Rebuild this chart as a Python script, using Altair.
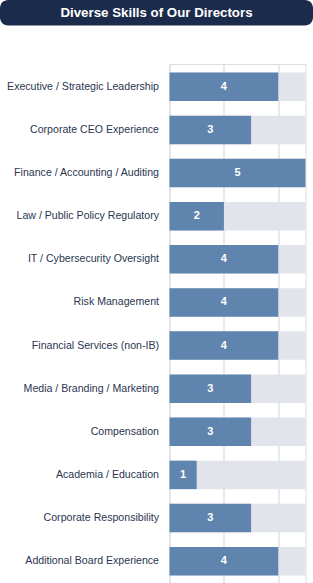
import altair as alt
import pandas as pd

# Board skills matrix: number of directors with each skill (out of 5)
skills = [
    "Executive / Strategic Leadership",
    "Corporate CEO Experience",
    "Finance / Accounting / Auditing",
    "Law / Public Policy Regulatory",
    "IT / Cybersecurity Oversight",
    "Risk Management",
    "Financial Services (non-IB)",
    "Media / Branding / Marketing",
    "Compensation",
    "Academia / Education",
    "Corporate Responsibility",
    "Additional Board Experience",
]
directors = [4, 3, 5, 2, 4, 4, 4, 3, 3, 1, 3, 4]
total_directors = 5
title_text = ["Diverse Skills of Our Directors"]

NAVY = "#1b2b4b"
BAR = "#5f84ad"
TRACK = "#e1e4ea"
GRID = "#dde3ea"
FONT = "Liberation Sans"

df = pd.DataFrame({"skill": skills, "count": directors})
df["total"] = total_directors
df["mid"] = df["count"] / 2

y_enc = alt.Y(
    "skill:N",
    sort=skills,
    scale=alt.Scale(paddingInner=0.34, paddingOuter=0.2),
    axis=alt.Axis(
        title=None, ticks=False, domain=False, labelFontSize=10.6,
        labelColor="#2a3650", labelFont=FONT, labelPadding=11, labelLimit=220,
    ),
)
x_scale = alt.Scale(domain=[0, total_directors], nice=False)

base = alt.Chart(df).encode(y=y_enc)

track = base.mark_bar(color=TRACK).encode(
    x=alt.X(
        "total:Q", scale=x_scale,
        axis=alt.Axis(
            title=None, labels=False, ticks=False, domain=False, grid=True,
            values=[0, 1, 2, 3, 4, 5], gridColor=GRID, gridWidth=1.5,
        ),
    )
)
bars = base.mark_bar(color=BAR).encode(x=alt.X("count:Q", scale=x_scale))
labels = base.mark_text(
    color="white", fontWeight="bold", fontSize=11, font=FONT
).encode(x=alt.X("mid:Q", scale=x_scale), text="count:Q")

# Header banner above the plot
header_df = pd.DataFrame({"title": title_text})
banner = alt.Chart(header_df).mark_rect(color=NAVY, cornerRadius=8).encode(
    x=alt.value(-169.5), x2=alt.value(143.5),
    y=alt.value(-64), y2=alt.value(-38.5),
)
banner_text = alt.Chart(header_df).mark_text(
    color="white", fontWeight="bold", fontSize=13.3, font=FONT, baseline="middle"
).encode(x=alt.value(-13), y=alt.value(-51.5), text="title:N")

chart = (
    alt.layer(track, bars, labels, banner, banner_text)
    .properties(
        width=136, height=520, autosize="none",
        padding={"left": 169.5, "top": 64, "right": 7.5, "bottom": 0},
    )
    .configure_view(stroke=None)
    .configure(background="white")
)

chart.save("out.html", embed_options={"renderer": "svg", "actions": False})
